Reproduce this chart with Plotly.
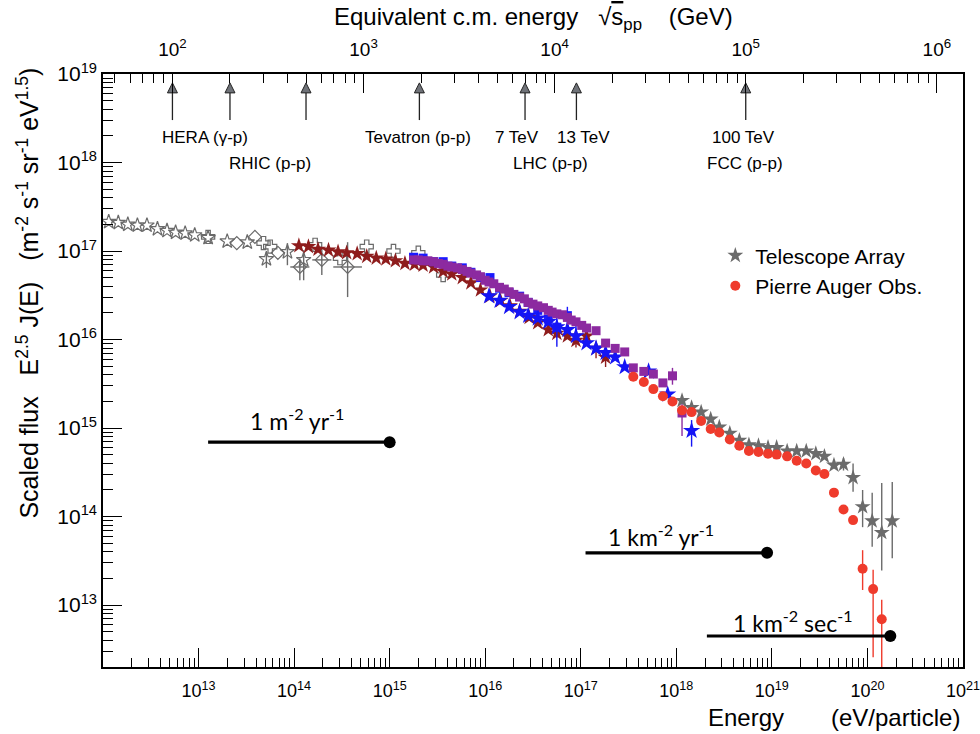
import math
import plotly.graph_objects as go

# ---------------- data ----------------
# log10(E / eV) and log10( E^2.5 J(E) / (m^-2 s^-1 sr^-1 eV^1.5) )
# errors are given in dex (up / down)

# low-energy direct measurements: open stars
ostar_lgE = [12.06, 12.16, 12.26, 12.36, 12.46, 12.57, 12.67, 12.76, 12.86, 12.96, 13.10, 13.30, 13.51, 13.71, 13.93, 14.10]
ostar_lgF = [17.33, 17.32, 17.30, 17.29, 17.29, 17.25, 17.23, 17.21, 17.20, 17.18, 17.15, 17.11, 17.10, 16.91, 16.99, 16.90]
ostar_eup = [0, 0, 0, 0, 0, 0, 0, 0, 0, 0, 0, 0, 0, 0.08, 0.10, 0.11]
ostar_edn = [0, 0, 0, 0, 0, 0, 0, 0, 0, 0, 0, 0, 0, 0.10, 0.15, 0.23]

# open diamonds
odia_lgE = [13.40, 13.59, 13.83, 14.06, 14.29, 14.56]
odia_lgF = [17.09, 17.16, 16.98, 16.82, 16.90, 16.82]
odia_xerr = [0, 0, 0, 0.10, 0.10, 0.15]
odia_eup = [0, 0, 0, 0.10, 0.14, 0.28]
odia_edn = [0, 0, 0, 0.15, 0.17, 0.34]

# open crosses
ocross_lgE = [13.10, 13.68, 13.75, 14.22, 14.48, 14.76, 15.04, 15.30, 15.56]
ocross_lgF = [17.16, 17.09, 17.05, 17.07, 16.92, 17.05, 17.00, 16.98, 16.73]

# dark red filled stars
dred_lgE = [14.05, 14.15, 14.25, 14.36, 14.46, 14.55, 14.66, 14.76, 14.86, 14.96, 15.06, 15.16, 15.26,
            15.35, 15.46, 15.56, 15.65, 15.76, 15.85, 15.95, 16.05, 16.16, 16.26, 16.36, 16.46, 16.55,
            16.66, 16.75, 16.86, 16.95, 17.06, 17.16, 17.26]
dred_lgF = [17.06, 17.05, 17.02, 17.01, 16.99, 16.98, 16.97, 16.94, 16.92, 16.91, 16.89, 16.86, 16.85,
            16.84, 16.82, 16.77, 16.74, 16.70, 16.64, 16.56, 16.49, 16.44, 16.38, 16.32, 16.25, 16.19,
            16.11, 16.07, 16.04, 15.99, 16.04, 15.90, 15.80]
dred_eup = [0, 0, 0, 0, 0, 0, 0, 0, 0, 0, 0, 0, 0, 0, 0, 0, 0, 0, 0, 0, 0, 0, 0, 0, 0, 0,
            0, 0.05, 0, 0.05, 0, 0.05, 0.08]
dred_edn = [0, 0, 0, 0, 0, 0, 0, 0, 0, 0, 0, 0, 0, 0, 0, 0, 0, 0, 0, 0, 0, 0, 0, 0, 0, 0,
            0, 0.05, 0, 0.08, 0, 0.11, 0.11]

# blue filled squares
bsq_lgE = [15.25, 15.35, 15.46, 15.56, 15.65, 15.76, 15.85, 15.95, 16.05, 16.15, 16.25, 16.36, 16.45,
           16.55, 16.66, 16.75, 16.86]
bsq_lgF = [16.93, 16.92, 16.88, 16.88, 16.83, 16.81, 16.76, 16.70, 16.70, 16.58, 16.53, 16.49, 16.42,
           16.33, 16.23, 16.14, 16.27]
bsq_eup = [0, 0, 0, 0, 0, 0, 0, 0, 0, 0, 0, 0, 0, 0, 0, 0, 0.10]
bsq_edn = [0, 0, 0, 0, 0, 0, 0, 0, 0, 0, 0, 0, 0, 0, 0, 0, 0.16]

# blue filled stars
bstar_lgE = [16.04, 16.15, 16.25, 16.36, 16.45, 16.55, 16.66, 16.75, 16.86, 16.95, 17.06, 17.16, 17.26,
             17.36, 17.46, 17.71, 17.91, 18.16]
bstar_lgF = [16.49, 16.44, 16.37, 16.31, 16.27, 16.24, 16.20, 16.14, 16.11, 16.04, 15.96, 15.90, 15.85,
             15.80, 15.69, 15.64, 15.38, 14.97]
bstar_eup = [0, 0, 0, 0, 0, 0, 0, 0.16, 0, 0.20, 0, 0, 0, 0, 0, 0, 0, 0.12]
bstar_edn = [0, 0, 0, 0, 0, 0, 0, 0.22, 0, 0.05, 0, 0, 0, 0, 0, 0, 0, 0.18]

# purple filled squares
purp_lgE = [15.25, 15.30, 15.35, 15.40, 15.46, 15.51, 15.56, 15.61, 15.65, 15.71, 15.76, 15.81, 15.85,
            15.91, 15.95, 16.00, 16.04, 16.09, 16.15, 16.20, 16.25, 16.30, 16.36, 16.41, 16.45, 16.50,
            16.55, 16.61, 16.66, 16.70, 16.75, 16.81, 16.86, 16.90, 16.95, 17.01, 17.06, 17.16, 17.26,
            17.36, 17.46, 17.55, 17.66, 17.76, 17.86, 17.96, 18.06]
purp_lgF = [16.90, 16.90, 16.89, 16.89, 16.88, 16.86, 16.85, 16.83, 16.82, 16.81, 16.79, 16.77, 16.75,
            16.73, 16.71, 16.67, 16.65, 16.63, 16.59, 16.57, 16.54, 16.51, 16.48, 16.46, 16.42, 16.40,
            16.38, 16.36, 16.33, 16.31, 16.29, 16.28, 16.25, 16.22, 16.20, 16.16, 16.13, 16.10, 15.96,
            15.90, 15.86, 15.68, 15.64, 15.61, 15.51, 15.59, 15.17]
purp_eup = [0] * 45 + [0.09, 0.12]
purp_edn = [0] * 45 + [0.10, 0.26]

# Telescope Array
ta_lgE = [18.06, 18.16, 18.26, 18.36, 18.45, 18.56, 18.66, 18.76, 18.86, 18.96, 19.05, 19.16, 19.26,
          19.36, 19.46, 19.55, 19.65, 19.75, 19.85, 19.95, 20.05, 20.15, 20.26]
ta_lgF = [15.31, 15.23, 15.18, 15.10, 15.01, 14.94, 14.86, 14.81, 14.80, 14.78, 14.78, 14.74, 14.74,
          14.74, 14.71, 14.68, 14.58, 14.59, 14.44, 14.11, 13.95, 13.82, 13.95]
ta_eup = [0, 0, 0, 0, 0, 0, 0, 0, 0, 0, 0, 0, 0, 0, 0, 0, 0.04, 0.07, 0.16, 0.19, 0.32, 0.56, 0.44]
ta_edn = [0, 0, 0, 0, 0, 0, 0, 0, 0, 0, 0, 0, 0, 0, 0, 0, 0.04, 0.07, 0.16, 0.23, 0.29, 0.43, 0.42]

# Pierre Auger Observatory
pao_lgE = [17.55, 17.66, 17.76, 17.86, 17.96, 18.06, 18.16, 18.26, 18.36, 18.45, 18.56, 18.66, 18.76,
           18.86, 18.96, 19.05, 19.16, 19.26, 19.36, 19.46, 19.55, 19.65, 19.75, 19.85, 19.95, 20.06, 20.15]
pao_lgF = [15.58, 15.52, 15.44, 15.36, 15.30, 15.20, 15.18, 15.08, 14.99, 14.95, 14.87, 14.80, 14.74,
           14.73, 14.71, 14.70, 14.68, 14.63, 14.60, 14.52, 14.48, 14.27, 14.08, 13.96, 13.41, 13.18, 12.84]
pao_eup = [0] * 24 + [0.21, 0.22, 0.22]
pao_edn = [0] * 24 + [0.24, 0.77, 0.84]

# integral-rate reference bars
rate_labels = ["1 m<sup>-2</sup> yr<sup>-1</sup>", "1 km<sup>-2</sup> yr<sup>-1</sup>", "1 km<sup>-2</sup> sec<sup>-1</sup>"]
rate_lgE_start = [13.10, 17.05, 18.32]
rate_lgE_end = [15.00, 18.95, 20.24]
rate_lgF = [14.84, 13.59, 12.65]

# collider equivalent energies (sqrt(s) in GeV)
collider_sqrt_s = [100, 200, 500, 1960, 7000, 13000, 100000]
collider_labels = ["HERA (γ-p)", "RHIC (p-p)", "Tevatron (p-p)", "7 TeV", "13 TeV", "LHC (p-p)", "100 TeV", "FCC (p-p)"]
collider_label_sqrt_s = [148, 324, 1932, 6370, 14100, 9480, 97000, 99500]
collider_label_row = [1, 2, 1, 1, 1, 2, 1, 2]

# axis ticks
x_major_exp = [13, 14, 15, 16, 17, 18, 19, 20, 21]
y_major_exp = [13, 14, 15, 16, 17, 18, 19]
top_major_exp = [2, 3, 4, 5, 6]

# ---------------- helpers ----------------
FONT = "Liberation Sans, Arial, Helvetica, sans-serif"
E_LG_MIN, E_LG_MAX = 12.0, 21.0
F_LG_MIN, F_LG_MAX = 12.3, 19.0
MP = 0.938  # GeV
SQ_LG_MIN = 0.5 * (E_LG_MIN - 9 + math.log10(2 * MP))
SQ_LG_MAX = 0.5 * (E_LG_MAX - 9 + math.log10(2 * MP))
EPS = 0.0005


def p10(v):
    return [10.0 ** a for a in v]


def yerr(lgF, up, dn, color, thick=1.4):
    return dict(type="data", symmetric=False,
                array=[10.0 ** (f + u) - 10.0 ** f for f, u in zip(lgF, up)],
                arrayminus=[10.0 ** f - 10.0 ** (f - d) for f, d in zip(lgF, dn)],
                color=color, thickness=thick, width=0)


def series(lgE, lgF, symbol, color, size, name=None, up=None, dn=None, xe=None, line_w=1.0, legend=False):
    kw = dict(x=p10(lgE), y=p10(lgF), mode="markers", name=name or "", showlegend=legend,
              marker=dict(symbol=symbol, color=color, size=size, line=dict(width=line_w, color=color)),
              xaxis="x", yaxis="y")
    if up is not None:
        kw["error_y"] = yerr(lgF, up, dn, color)
    if xe is not None:
        kw["error_x"] = dict(type="data", symmetric=False,
                             array=[10.0 ** (e + d) - 10.0 ** e for e, d in zip(lgE, xe)],
                             arrayminus=[10.0 ** e - 10.0 ** (e - d) for e, d in zip(lgE, xe)],
                             color=color, thickness=1.4, width=0)
    return go.Scatter(**kw)


fig = go.Figure()

GRAY_OPEN = "#6a6a6a"
fig.add_trace(series(ostar_lgE, ostar_lgF, "star-open", GRAY_OPEN, 11, up=ostar_eup, dn=ostar_edn, line_w=1.2))
fig.add_trace(series(odia_lgE, odia_lgF, "diamond-open", GRAY_OPEN, 10, up=odia_eup, dn=odia_edn, xe=odia_xerr, line_w=1.2))
fig.add_trace(series(ocross_lgE, ocross_lgF, "cross-open", GRAY_OPEN, 11, line_w=1.2))
fig.add_trace(series(dred_lgE, dred_lgF, "star", "#8e1c1c", 12, up=dred_eup, dn=dred_edn, line_w=0))
fig.add_trace(series(bsq_lgE, bsq_lgF, "square", "#1a1aff", 9, up=bsq_eup, dn=bsq_edn, line_w=0))
fig.add_trace(series(bstar_lgE, bstar_lgF, "star", "#1414f5", 13, up=bstar_eup, dn=bstar_edn, line_w=0))
fig.add_trace(series(purp_lgE, purp_lgF, "square", "#8c2aa0", 9, up=purp_eup, dn=purp_edn, line_w=0))
fig.add_trace(series(ta_lgE, ta_lgF, "star", "#6b6b6b", 12, name="Telescope Array", up=ta_eup, dn=ta_edn, line_w=0, legend=True))
fig.add_trace(series(pao_lgE, pao_lgF, "circle", "#ef3b2c", 10, name="Pierre Auger Obs.", up=pao_eup, dn=pao_edn, line_w=0, legend=True))

# rate bars
for lab, e0, e1, f, xs, ys in zip(rate_labels, rate_lgE_start, rate_lgE_end, rate_lgF, [-2, -15, -6], [23, 17, 15]):
    fig.add_trace(go.Scatter(x=[10.0 ** e0, 10.0 ** e1], y=[10.0 ** f, 10.0 ** f], mode="lines",
                             line=dict(color="black", width=3.2), showlegend=False, hoverinfo="skip"))
    fig.add_trace(go.Scatter(x=[10.0 ** e1], y=[10.0 ** f], mode="markers",
                             marker=dict(color="black", size=12), showlegend=False, hoverinfo="skip"))
    fig.add_annotation(x=(e0 + e1) / 2, y=f, xref="x", yref="y", text=lab, showarrow=False,
                       xshift=xs, yshift=ys, font=dict(family="Lato, Open Sans, sans-serif", size=23, color="black"))

# collider arrows on the top (sqrt s) axis
ARROW_TAIL, ARROW_TIP = 18.48, 18.90
shaft_x, shaft_y = [], []
for s in collider_sqrt_s:
    shaft_x += [s, s, None]
    shaft_y += [10.0 ** ARROW_TAIL, 10.0 ** (ARROW_TIP - 0.1), None]
fig.add_trace(go.Scatter(x=shaft_x, y=shaft_y, mode="lines", line=dict(color="#222", width=1.3),
                         xaxis="x2", yaxis="y", showlegend=False, hoverinfo="skip"))
fig.add_trace(go.Scatter(x=collider_sqrt_s, y=[10.0 ** ARROW_TIP] * len(collider_sqrt_s), mode="markers",
                         marker=dict(symbol="arrow-up", size=10, color="#6f7278", line=dict(color="#222", width=1)),
                         xaxis="x2", yaxis="y", showlegend=False, hoverinfo="skip"))
for lab, s, row in zip(collider_labels, collider_label_sqrt_s, collider_label_row):
    fig.add_annotation(x=math.log10(s), y=18.288 if row == 1 else 17.994, xref="x2", yref="y",
                       text=lab, showarrow=False, font=dict(family=FONT, size=17, color="black"))

# axes
x_minor = [m * 10.0 ** d for d in range(12, 21) for m in range(2, 10)]
y_minor = [m * 10.0 ** d for d in range(12, 19) for m in range(2, 10) if m * 10.0 ** d >= 10.0 ** F_LG_MIN]
top_minor = [m * 10.0 ** d for d in range(1, 7) for m in range(2, 10)
             if 10.0 ** SQ_LG_MIN <= m * 10.0 ** d <= 10.0 ** SQ_LG_MAX]

axis_common = dict(showgrid=False, zeroline=False, showline=True, linecolor="black", linewidth=1.5,
                   ticks="inside", tickcolor="black", tickwidth=1.3, ticklen=19, tickmode="array",
                   automargin=False)

fig.update_layout(
    width=980, height=734,
    margin=dict(l=103, r=17, t=74, b=67),
    paper_bgcolor="white", plot_bgcolor="white",
    font=dict(family=FONT, color="black"),
    xaxis=dict(type="log", range=[E_LG_MIN, E_LG_MAX + EPS], side="bottom",
               tickvals=[10.0 ** e for e in x_major_exp],
               ticktext=["10<sup>%d</sup>" % e for e in x_major_exp],
               tickfont=dict(size=18), ticklabelstandoff=7,
               minor=dict(tickmode="array", tickvals=x_minor, ticks="inside", ticklen=9, tickwidth=1.2, tickcolor="black"),
               **axis_common),
    xaxis2=dict(type="log", range=[SQ_LG_MIN, SQ_LG_MAX + EPS / 2], side="top", overlaying="x", anchor="y",
                tickvals=[10.0 ** e for e in top_major_exp],
                ticktext=["10<sup>%d</sup>" % e for e in top_major_exp],
                tickfont=dict(size=19), ticklabelstandoff=9,
                minor=dict(tickmode="array", tickvals=top_minor, ticks="inside", ticklen=9, tickwidth=1.2, tickcolor="black"),
                **axis_common),
    yaxis=dict(type="log", range=[F_LG_MIN, F_LG_MAX + EPS], mirror=True,
               tickvals=[10.0 ** e for e in y_major_exp],
               ticktext=["10<sup>%d</sup>" % e for e in y_major_exp],
               tickfont=dict(size=21),
               minor=dict(tickmode="array", tickvals=y_minor, ticks="inside", ticklen=10, tickwidth=1.2, tickcolor="black"),
               **axis_common),
    legend=dict(x=0.712, y=0.728, xanchor="left", yanchor="top", bgcolor="rgba(0,0,0,0)",
                font=dict(family=FONT, size=21), itemsizing="trace", tracegroupgap=0),
    showlegend=True,
)

NB = "\u00a0"
fig.add_annotation(xref="paper", yref="paper", x=-0.087, y=0.63, xanchor="center", yanchor="middle",
                   textangle=-90, showarrow=False,
                   text="Scaled flux" + NB * 3 + "E<sup>2.5</sup> J(E)" + NB * 3 +
                        "(m<sup>-2</sup> s<sup>-1</sup> sr<sup>-1</sup> eV<sup>1.5</sup>)",
                   font=dict(family=FONT, size=25))
fig.add_annotation(xref="paper", yref="paper", x=0.5, y=1.094, xanchor="center", yanchor="middle", showarrow=False,
                   text="Equivalent c.m. energy" + NB * 3 + "√<span style='text-decoration:overline'>s</span><sub>pp</sub>"
                        + NB * 4 + "(GeV)",
                   font=dict(family=FONT, size=24))
fig.add_annotation(xref="paper", yref="paper", x=(746 - 103) / 860, y=-0.086, xanchor="center", yanchor="middle",
                   showarrow=False, text="Energy", font=dict(family=FONT, size=24))
fig.add_annotation(xref="paper", yref="paper", x=(895 - 103) / 860, y=-0.086, xanchor="center", yanchor="middle",
                   showarrow=False, text="(eV/particle)", font=dict(family=FONT, size=24))

fig.write_html("out.html")
